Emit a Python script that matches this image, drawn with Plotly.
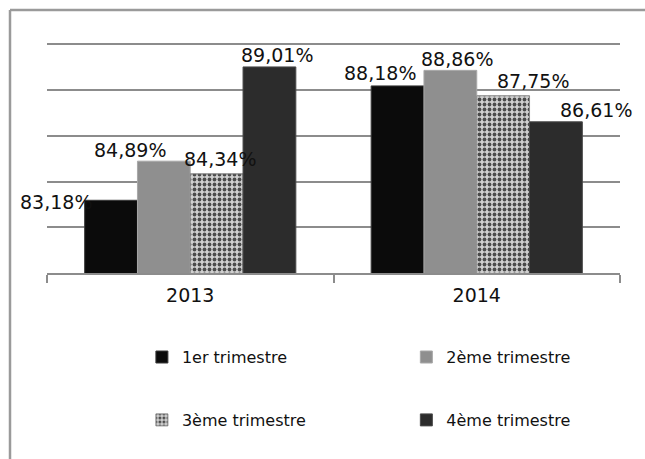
import plotly.graph_objects as go

# Taux par trimestre (%)
years = ["2013", "2014"]
series_names = ["1er trimestre", "2ème trimestre", "3ème trimestre", "4ème trimestre"]
q1 = [83.18, 88.18]
q2 = [84.89, 88.86]
q3 = [84.34, 87.75]
q4 = [89.01, 86.61]
values = [q1, q2, q3, q4]

y_min, y_max, y_step = 80, 90, 2

# Bar styling
colors = ["#0b0b0b", "#8f8f8f", "#b5b5b5", "#2c2c2c"]
line_colors = ["#3a3a3a", "#a8a8a8", "#8a8a8a", "#4a4a4a"]
BARGAP = 0.263
FONT = "DejaVu Sans"

# Pixel nudges for the value labels (per series, per year)
label_dx = [[-55, -18], [-34, 7], [3, 30], [8, 40]]
label_dy = [[-2, 13], [11, 11], [15, 15], [12, 12]]

# Legend placement (container coordinates)
legend_pos = [(0.22, 0.222), (0.63, 0.222), (0.22, 0.085), (0.63, 0.085)]

fig = go.Figure()
for j, (name, vals) in enumerate(zip(series_names, values)):
    marker = dict(color=colors[j], line=dict(color=line_colors[j], width=1))
    if j == 2:
        marker["pattern"] = dict(shape=".", fgcolor="#4a4a4a", bgcolor="#d0d0d0",
                                 size=5, solidity=0.45, fillmode="replace")
    fig.add_trace(go.Bar(
        x=years, y=vals, name=name, marker=marker,
        legend="legend" if j == 0 else f"legend{j + 1}",
        hoverinfo="skip",
    ))

# Value labels placed from the same values as the bars
bar_w = (1 - BARGAP) / len(series_names)
annotations = []
for j, vals in enumerate(values):
    for i, v in enumerate(vals):
        annotations.append(dict(
            x=i + (j - (len(series_names) - 1) / 2) * bar_w, y=v,
            xref="x", yref="y",
            text=f"{v:.2f}%".replace(".", ","),
            showarrow=False, xanchor="center", yanchor="middle",
            xshift=label_dx[j][i], yshift=label_dy[j][i],
            font=dict(family=FONT, size=19, color="#111111"),
        ))

# Outer frame (top and left edges), in pixel-derived paper coordinates
ML, MT, MB, W, H = 47, 42, 186, 645, 459
plot_w, plot_h = W - ML - 25, H - MT - MB
fx = (10 - ML) / plot_w
fy = (H - MB - 10) / plot_h
frame_color = "#9a9a9a"
shapes = [
    dict(type="line", xref="paper", yref="paper", x0=fx, x1=1.06,
         y0=fy, y1=fy, line=dict(color=frame_color, width=2.5)),
    dict(type="line", xref="paper", yref="paper", x0=fx, x1=fx,
         y0=fy, y1=-0.95, line=dict(color=frame_color, width=2.5)),
]

layout_legends = {}
for j, (lx, ly) in enumerate(legend_pos):
    key = "legend" if j == 0 else f"legend{j + 1}"
    layout_legends[key] = dict(
        x=lx, y=ly, xref="container", yref="container",
        xanchor="left", yanchor="middle",
        font=dict(family=FONT, size=16, color="#111111"),
        bgcolor="rgba(0,0,0,0)", borderwidth=0,
    )

fig.update_layout(
    width=W, height=H, autosize=False,
    margin=dict(l=ML, r=25, t=MT, b=MB, autoexpand=False),
    paper_bgcolor="white", plot_bgcolor="white",
    barmode="group", bargap=BARGAP, bargroupgap=0,
    showlegend=True,
    annotations=annotations, shapes=shapes,
    font=dict(family=FONT, color="#111111"),
    **layout_legends,
)
fig.update_xaxes(
    type="category", range=[-0.5, len(years) - 0.5], showgrid=False, tickangle=0,
    showline=True, linecolor="#8c8c8c", linewidth=1.5,
    ticks="outside", tickson="boundaries", ticklen=8, tickwidth=1.5,
    tickcolor="#8c8c8c", ticklabelstandoff=4,
    tickfont=dict(family=FONT, size=19, color="#111111"),
)
fig.update_yaxes(
    range=[y_min, y_max + 0.1], dtick=y_step, tick0=y_min,
    showgrid=True, gridcolor="#8c8c8c", gridwidth=1.5,
    showticklabels=False, zeroline=False, showline=False, ticks="",
)

fig.write_html("out.html")
